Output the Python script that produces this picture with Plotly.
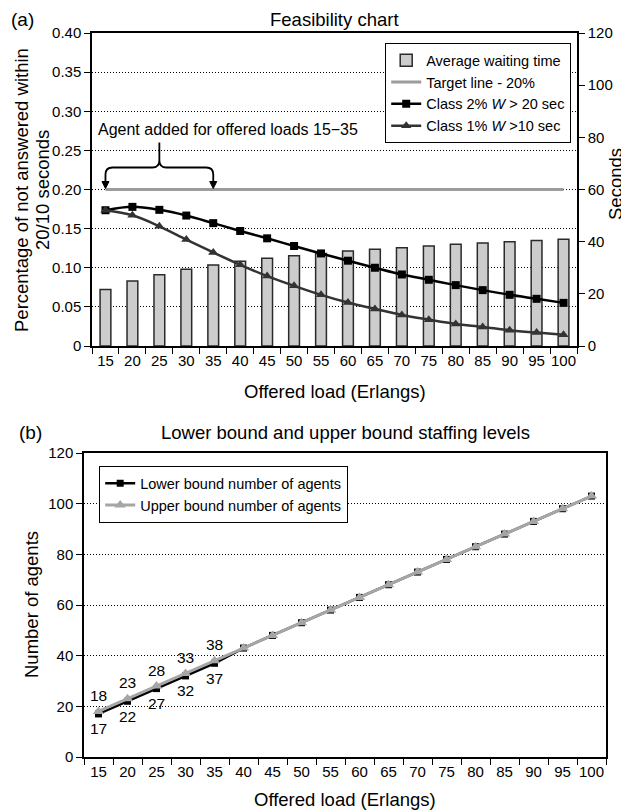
import plotly.graph_objects as go

# ---------------- data ----------------
loads = [15, 20, 25, 30, 35, 40, 45, 50, 55, 60, 65, 70, 75, 80, 85, 90, 95, 100]
avg_wait_sec = [21.7, 24.9, 27.3, 29.4, 31.1, 32.5, 33.6, 34.6, 35.5, 36.4,
                37.1, 37.7, 38.3, 39.0, 39.5, 40.0, 40.4, 40.9]
target_pct = [0.20] * len(loads)
class2_pct = [0.1735, 0.1778, 0.174, 0.1667, 0.157, 0.147, 0.1376, 0.1278, 0.1183,
              0.109, 0.100, 0.0914, 0.0846, 0.0778, 0.0714, 0.0654, 0.0603, 0.0551]
class1_pct = [0.1735, 0.167, 0.153, 0.136, 0.1196, 0.1038, 0.0893, 0.0769, 0.0654,
              0.0555, 0.0474, 0.0397, 0.0337, 0.0282, 0.0244, 0.0201, 0.0171, 0.0145]
lower_agents = [17, 22, 27, 32, 37, 43, 48, 53, 58, 63, 68, 73, 78, 83, 88, 93, 98, 103]
upper_agents = [18, 23, 28, 33, 38, 43, 48, 53, 58, 63, 68, 73, 78, 83, 88, 93, 98, 103]
labelled_points = 5          # first five loads carry value labels
added_range = (15, 35)       # loads where an agent was added

pct_ticks = [0, 0.05, 0.10, 0.15, 0.20, 0.25, 0.30, 0.35, 0.40]
pct_ticktext = ["0", "0.05", "0.10", "0.15", "0.20", "0.25", "0.30", "0.35", "0.40"]
sec_ticks = [0, 20, 40, 60, 80, 100, 120]
agent_ticks = [0, 20, 40, 60, 80, 100, 120]

# ---------------- layout helpers ----------------
OFF = 8                      # page body margin
W, H = 629 - OFF, 812 - OFF
FONT = "Liberation Sans, Arial, Helvetica, sans-serif"


def px(x):
    return (x - OFF) / W


def py(y):
    return 1 - (y - OFF) / H


top_x = (92, 577)
top_y = (33, 346)
bot_x = (84, 606)
bot_y = (453, 757)

xrange_ = [12.5, 102.5]
boundaries = [12.5 + 5 * i for i in range(19)]

fig = go.Figure()

# bars on the seconds axis (primary y, drawn beneath)
fig.add_trace(go.Bar(
    x=loads, y=avg_wait_sec, name="Average waiting time", xaxis="x", yaxis="y",
    width=2.0, marker=dict(color="#cccccc", line=dict(color="#2a2a2a", width=1.5)),
    legend="legend"))
fig.add_trace(go.Scatter(
    x=loads, y=target_pct, name="Target line - 20%", mode="lines", xaxis="x", yaxis="y2",
    line=dict(color="#9c9c9c", width=3), legend="legend"))
fig.add_trace(go.Scatter(
    x=loads, y=class2_pct, name="Class 2% <i>W</i> > 20 sec", mode="lines+markers",
    xaxis="x", yaxis="y2", line=dict(color="black", width=2.5, shape="spline"),
    marker=dict(symbol="square", size=8, color="black"), legend="legend"))
fig.add_trace(go.Scatter(
    x=loads, y=class1_pct, name="Class 1% <i>W</i> >10 sec", mode="lines+markers",
    xaxis="x", yaxis="y2", line=dict(color="#333333", width=2.5, shape="spline"),
    marker=dict(symbol="triangle-up", size=9, color="#333333"), legend="legend"))

# bottom chart
fig.add_trace(go.Scatter(
    x=loads, y=lower_agents, name="Lower bound number of agents", mode="lines+markers",
    xaxis="x2", yaxis="y3", line=dict(color="black", width=2.5),
    marker=dict(symbol="square", size=7, color="black"), legend="legend2"))
fig.add_trace(go.Scatter(
    x=loads, y=upper_agents, name="Upper bound number of agents", mode="lines+markers",
    xaxis="x2", yaxis="y3", line=dict(color="#a6a6a6", width=3),
    marker=dict(symbol="triangle-up", size=10, color="#a6a6a6"), legend="legend2"))

tickfont = dict(family=FONT, size=15, color="black")
dot = "1px,2px"

xcommon = dict(range=xrange_, tickmode="array", tickvals=loads, ticks="",
               showgrid=False, zeroline=False, showline=True, linecolor="black",
               linewidth=1.5, mirror=True, tickfont=tickfont, automargin=False,
               minor=dict(tickmode="array", tickvals=boundaries, ticks="outside",
                          ticklen=6, tickcolor="black", tickwidth=1.2, showgrid=False),
               fixedrange=True)

legend_common = dict(bgcolor="white", bordercolor="black", borderwidth=1.2,
                     font=dict(family=FONT, size=14.5, color="black"),
                     tracegroupgap=0, itemwidth=30)

fig.update_layout(
    width=W, height=H, margin=dict(l=0, r=0, t=0, b=0),
    paper_bgcolor="white", plot_bgcolor="white",
    font=dict(family=FONT, color="black", size=15),
    barmode="overlay",
    xaxis=dict(domain=[px(top_x[0]), px(top_x[1])], anchor="y", **xcommon),
    yaxis=dict(domain=[py(top_y[1]), py(top_y[0])], anchor="x", side="right",
               range=[0, 120], tickvals=sec_ticks, ticks="outside", ticklen=6,
               tickcolor="black", showgrid=False, zeroline=False, showline=True,
               linecolor="black", linewidth=1.5, tickfont=tickfont, automargin=False),
    yaxis2=dict(overlaying="y", anchor="x", side="left", range=[0, 0.40],
                tickvals=pct_ticks, ticktext=pct_ticktext, ticks="outside", ticklen=6,
                tickcolor="black", showgrid=True, gridcolor="black", gridwidth=1,
                griddash=dot, zeroline=False, showline=True, linecolor="black",
                linewidth=1.5, tickfont=tickfont, automargin=False),
    xaxis2=dict(domain=[px(bot_x[0]), px(bot_x[1])], anchor="y3", **xcommon),
    yaxis3=dict(domain=[py(bot_y[1]), py(bot_y[0])], anchor="x2", range=[0, 120],
                tickvals=agent_ticks, ticks="outside", ticklen=6, tickcolor="black",
                showgrid=True, gridcolor="black", gridwidth=1, griddash=dot,
                zeroline=False, showline=True, linecolor="black", linewidth=1.5,
                mirror=True, tickfont=tickfont, automargin=False),
    legend=dict(x=px(571), xanchor="right", y=py(43), yanchor="top", **legend_common),
    legend2=dict(x=px(99), xanchor="left", y=py(466), yanchor="top", **legend_common),
    showlegend=True,
)

# ---------------- brace annotation (derived from the added range) ----------------
ux = (top_x[1] - top_x[0]) / (xrange_[1] - xrange_[0])   # px per load unit
uy = (top_y[1] - top_y[0]) / 0.40                         # px per pct unit
a, b = added_range
m = (a + b) / 2
t = target_pct[0]
dx = lambda p: p / ux
dy = lambda p: p / uy
yh = t + dy(22)        # horizontal part of brace
ytip = t + dy(47)
ylow = t + dy(7)
r = 7
path = (f"M {a},{ylow} L {a},{yh - dy(r)} Q {a},{yh} {a + dx(r)},{yh} "
        f"L {m - dx(r)},{yh} Q {m},{yh} {m},{yh + dy(r)} L {m},{ytip} "
        f"M {m},{yh + dy(r)} Q {m},{yh} {m + dx(r)},{yh} L {b - dx(r)},{yh} "
        f"Q {b},{yh} {b},{yh - dy(r)} L {b},{ylow}")
shapes = [dict(type="path", path=path, xref="x", yref="y2",
               line=dict(color="black", width=1.8))]
for xv in (a, b):
    shapes.append(dict(type="path", xref="x", yref="y2",
                       path=f"M {xv - dx(3.5)},{t + dy(8)} L {xv + dx(3.5)},{t + dy(8)} "
                            f"L {xv},{t + dy(1)} Z",
                       fillcolor="black", line=dict(color="black", width=1)))
fig.update_layout(shapes=shapes)

ann = [
    dict(text="(a)", x=px(9), y=py(19), xanchor="left", yanchor="middle", font=dict(size=19)),
    dict(text="Feasibility chart", x=px(334.5), y=py(19), xanchor="center", yanchor="middle",
         font=dict(size=18.5)),
    dict(text="Agent added for offered loads 15\u221235", x=px(96), y=py(129),
         xanchor="left", yanchor="middle", font=dict(size=16)),
    dict(text="Percentage of not answered within", x=px(21), y=py(190),
         xanchor="center", yanchor="middle", textangle=-90, font=dict(size=18.5)),
    dict(text="20/10 seconds", x=px(42), y=py(190),
         xanchor="center", yanchor="middle", textangle=-90, font=dict(size=18.5)),
    dict(text="Seconds", x=px(615), y=py(184), xanchor="center", yanchor="middle",
         textangle=-90, font=dict(size=18.5)),
    dict(text="Offered load (Erlangs)", x=px(334.5), y=py(391), xanchor="center",
         yanchor="middle", font=dict(size=18.5)),
    dict(text="(b)", x=px(17), y=py(433), xanchor="left", yanchor="middle", font=dict(size=19)),
    dict(text="Lower bound and upper bound staffing levels", x=px(345), y=py(433),
         xanchor="center", yanchor="middle", font=dict(size=18.5)),
    dict(text="Number of agents", x=px(31), y=py(605), xanchor="center", yanchor="middle",
         textangle=-90, font=dict(size=18.5)),
    dict(text="Offered load (Erlangs)", x=px(345), y=py(799), xanchor="center",
         yanchor="middle", font=dict(size=18.5)),
]
for d in ann:
    d.update(xref="paper", yref="paper", showarrow=False)
    d["font"] = dict(family=FONT, color="black", **d["font"])

# value labels above (upper bound) and below (lower bound) the first points
for xv, yv in zip(loads[:labelled_points], upper_agents[:labelled_points]):
    ann.append(dict(text=str(yv), x=xv, y=yv, xref="x2", yref="y3", showarrow=False,
                    yshift=16, xanchor="center", yanchor="middle",
                    font=dict(family=FONT, size=15.5, color="black")))
for xv, yv in zip(loads[:labelled_points], lower_agents[:labelled_points]):
    ann.append(dict(text=str(yv), x=xv, y=yv, xref="x2", yref="y3", showarrow=False,
                    yshift=-15, xanchor="center", yanchor="middle",
                    font=dict(family=FONT, size=15.5, color="black")))
fig.update_layout(annotations=ann)

fig.write_html("out.html")
